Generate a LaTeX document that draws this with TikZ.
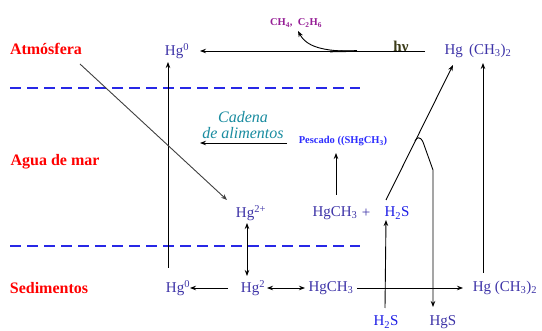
\documentclass[tikz,border=0pt]{standalone}
\usepackage{fontspec}
\setmainfont{Liberation Serif}
\usetikzlibrary{arrows.meta}
\definecolor{hgblue}{RGB}{62,52,168}
\definecolor{brblue}{RGB}{30,30,230}
\definecolor{pesblue}{RGB}{45,45,255}
\definecolor{chpurple}{RGB}{150,30,150}
\definecolor{teal2}{RGB}{25,140,160}
\definecolor{hvcol}{RGB}{60,60,25}
\definecolor{sepblue}{RGB}{40,40,230}
\begin{document}
\begin{tikzpicture}[x=1pt,y=-1pt,
  lbl/.style={text=red, font=\fontsize{16}{18}\selectfont\bfseries, inner sep=0pt},
  hg/.style={text=hgblue, font=\fontsize{15}{17}\selectfont, inner sep=0pt},
  arr/.style={-{Stealth[length=6pt,width=4.5pt]}, line width=0.9pt},
  darr/.style={{Stealth[length=6pt,width=4.5pt]}-{Stealth[length=6pt,width=4.5pt]}, line width=0.9pt},
  sepline/.style={sepblue, line width=1.6pt, dash pattern=on 11pt off 6pt}]
\useasboundingbox (0,0) rectangle (542,331);
\fill[white] (0,0) rectangle (542,331);

% zone labels
\node[lbl] (atm) at (46,49) {Atmósfera};
\node[lbl] (agua) at (55,162) {Agua de mar};
\node[lbl] (sed) at (49,288) {Sedimentos};

% separators
\draw[sepline] (10,88) -- (360,88);
\draw[sepline] (10,246) -- (360,246);

% species
\node[hg] (hg0t) at (177,51) {Hg\textsuperscript{0}};
\node[hg] (hgdmt) at (478,51) {Hg\, (CH\textsubscript{3})\textsubscript{2}};
\node[text=chpurple, font=\fontsize{10.5}{12}\selectfont\bfseries, inner sep=0pt] (ch4) at (296,23) {CH\textsubscript{4}, \ C\textsubscript{2}H\textsubscript{6}};
\node[text=hvcol, font=\fontsize{15}{16}\selectfont\bfseries, inner sep=0pt] (hv) at (401,46) {hν};
\node[text=teal2, font=\fontsize{16}{16}\selectfont\itshape, inner sep=0pt, align=center] (cadena) at (243,125) {Cadena\\de alimentos};
\node[text=pesblue, font=\fontsize{10.5}{12}\selectfont\bfseries, inner sep=0pt] (pescado) at (343,141) {Pescado ((SHgCH\textsubscript{3})};
\node[hg] (hg2p) at (251,213) {Hg\textsuperscript{2+}};
\node[hg] (hgch3m) at (335,213) {HgCH\textsubscript{3}};
\node[hg] (plus) at (366,213) {+};
\node[hg, text=brblue] (h2sm) at (397,213) {H\textsubscript{2}S};
\node[hg] (hg0b) at (178,288) {Hg\textsuperscript{0}};
\node[hg] (hg2b) at (253,288) {Hg\textsuperscript{2}};
\node[hg] (hgch3b) at (331,288) {HgCH\textsubscript{3}};
\node[hg] (hgdmb) at (505,288) {Hg (CH\textsubscript{3})\textsubscript{2}};
\node[hg, text=brblue] (h2sb) at (386,322) {H\textsubscript{2}S};
\node[hg] (hgs) at (443,322) {HgS};

% connectors
\coordinate (cv) at (357,51);
\coordinate (fork) at (415,141);
\draw[arr] ([shift={(-53,0)}]hgdmt.center) -- ([shift={(23,0)}]hg0t.center);
\draw[arr] (cv) .. controls (322,52) and (306,46) .. ([shift={(2,8)}]ch4.center);
\draw[line width=1.6pt] (cv) -- (330,51.5);
\draw[arr] ([shift={(-10,-20)}]hg0b.center) -- ([shift={(-9,11)}]hg0t.center);
\draw[arr, black!75] ([shift={(34,15)}]atm.center) -- ([shift={(-24,-13)}]hg2p.center);
\draw[arr] ([shift={(-56,2)}]pescado.center) -- ([shift={(-43,18)}]cadena.center);
\draw[arr] ([shift={(1,-18)}]hgch3m.center) -- ([shift={(-7,12)}]pescado.center);
\draw[arr] ([shift={(-11,-13)}]h2sm.center) -- ([shift={(-25,14)}]hgdmt.center);
\draw[arr] (fork) .. controls (417,137) and (420,136) .. (423,142) -- (433,170) -- ([shift={(-10,-15)}]hgs.center);
\draw[arr] ([shift={(-1,-14)}]h2sb.center) -- ([shift={(-11,7)}]h2sm.center);
\draw[arr] ([shift={(-22,-15)}]hgdmb.center) -- ([shift={(5,12)}]hgdmt.center);
\draw[arr] ([shift={(-25,0)}]hg2b.center) -- ([shift={(12,0)}]hg0b.center);
\draw[darr] ([shift={(14,0)}]hg2b.center) -- ([shift={(-26,0)}]hgch3b.center);
\draw[arr] ([shift={(26,0)}]hgch3b.center) -- ([shift={(-42,0)}]hgdmb.center);
\draw[darr] ([shift={(-4,10)}]hg2p.center) -- ([shift={(-6,-12)}]hg2b.center);
\end{tikzpicture}
\end{document}
